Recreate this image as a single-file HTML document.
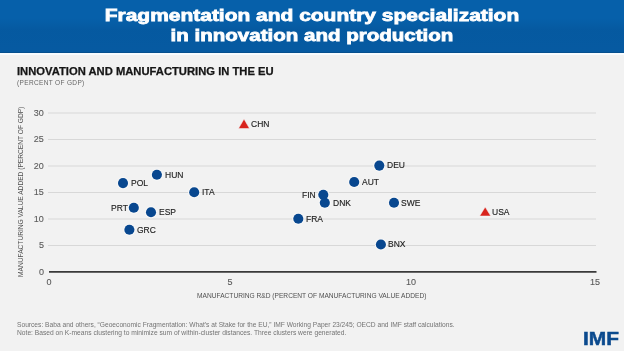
<!DOCTYPE html>
<html><head><meta charset="utf-8">
<style>
*{margin:0;padding:0;box-sizing:border-box}
html,body{width:624px;height:351px;overflow:hidden;background:#f2f2f2;font-family:"Liberation Sans",sans-serif}
#wrap{position:absolute;left:0;top:0;width:624px;height:351px;will-change:transform}
#hdr{position:absolute;left:0;top:0;width:624px;height:53px;background:#0660aa;border-bottom:1px solid #06508f}
#hdrtex{position:absolute;left:0;top:0;width:624px;height:52px;background:linear-gradient(to bottom,rgba(0,20,60,0) 0,rgba(0,20,60,0) 18px,rgba(0,20,60,0.09) 30px,rgba(0,20,60,0.08) 52px)}
#hdrline{position:absolute;left:0;top:53px;width:624px;height:2px;background:#f8fcff}
.t{position:absolute;white-space:nowrap;line-height:1}
.tt{color:#fff;font-weight:bold;font-size:17.2px;left:0;width:624px;text-align:center;-webkit-text-stroke:0.8px #fff}
#h1{font-weight:bold;font-size:10.4px;color:#161616;transform-origin:0 0;transform:scaleX(1.08);-webkit-text-stroke:0.25px #161616}
#sub{font-size:6.5px;color:#666;letter-spacing:0.35px}
.tick{font-size:9.7px;color:#595959;-webkit-text-stroke:0.1px #595959}
.yk{left:0;width:43.9px;text-align:right;transform-origin:100% 0;transform:scaleX(0.93)}
.xk{top:277.3px;width:40px;text-align:center;transform:scaleX(0.93)}
.lab{font-size:9.9px;color:#222;-webkit-text-stroke:0.15px #222;transform-origin:0 0;transform:scaleX(0.86);margin-top:-0.1px;margin-left:0.6px}
.note{font-size:6.5px;color:#737373}
#xt,#yt{color:#505050;font-size:7px}
#imf{font-weight:bold;font-size:19.2px;color:#0b4a8e;transform-origin:0 0;transform:scaleX(1.09);-webkit-text-stroke:0.5px #0b4a8e}
svg{position:absolute;left:0;top:0}
</style></head><body><div id="wrap">
<div id="hdr"></div><div id="hdrtex"></div><div id="hdrline"></div>
<div class="t tt" id="title1" style="top:7.4px;transform:scaleX(1.219)">Fragmentation and country specialization</div>
<div class="t tt" id="title2" style="top:27.3px;transform:scaleX(1.194)">in innovation and production</div>
<div class="t" id="h1" style="left:16.7px;top:66.6px">INNOVATION AND MANUFACTURING IN THE EU</div>
<div class="t" id="sub" style="left:17px;top:79.5px">(PERCENT OF GDP)</div>

<svg width="624" height="351" viewBox="0 0 624 351">
<g stroke="#d8d8d8" stroke-width="1">
<line x1="48" x2="596" y1="113" y2="113"/>
<line x1="48" x2="596" y1="139.5" y2="139.5"/>
<line x1="48" x2="596" y1="166" y2="166"/>
<line x1="48" x2="596" y1="192.5" y2="192.5"/>
<line x1="48" x2="596" y1="219" y2="219"/>
<line x1="48" x2="596" y1="245.5" y2="245.5"/>
</g>
<line x1="49" x2="596.5" y1="271.9" y2="271.9" stroke="#3a3a3a" stroke-width="1.8"/>
<g fill="#f8f8f8">
<circle cx="123" cy="183.1" r="6.1"/>
<circle cx="156.9" cy="174.8" r="6.1"/>
<circle cx="133.8" cy="207.8" r="6.1"/>
<circle cx="151" cy="212.2" r="6.1"/>
<circle cx="129.4" cy="229.8" r="6.1"/>
<circle cx="194.2" cy="192.2" r="6.1"/>
<circle cx="323.3" cy="194.8" r="6.1"/>
<circle cx="324.8" cy="202.8" r="6.1"/>
<circle cx="298.3" cy="218.8" r="6.1"/>
<circle cx="354.2" cy="182" r="6.1"/>
<circle cx="379.3" cy="165.6" r="6.1"/>
<circle cx="394" cy="202.7" r="6.1"/>
<circle cx="380.9" cy="244.5" r="6.1"/>
</g>
<g fill="#08478f">
<circle cx="123" cy="183.1" r="5.05"/>
<circle cx="156.9" cy="174.8" r="5.05"/>
<circle cx="133.8" cy="207.8" r="5.05"/>
<circle cx="151" cy="212.2" r="5.05"/>
<circle cx="129.4" cy="229.8" r="5.05"/>
<circle cx="194.2" cy="192.2" r="5.05"/>
<circle cx="323.3" cy="194.8" r="5.05"/>
<circle cx="324.8" cy="202.8" r="5.05"/>
<circle cx="298.3" cy="218.8" r="5.05"/>
<circle cx="354.2" cy="182" r="5.05"/>
<circle cx="379.3" cy="165.6" r="5.05"/>
<circle cx="394" cy="202.7" r="5.05"/>
<circle cx="380.9" cy="244.5" r="5.05"/>
</g>
<g fill="#d8231c" stroke="#f6f6f6" stroke-width="0.5">
<polygon points="244,119 249.5,128.5 238.5,128.5"/>
<polygon points="485.2,207 490.7,216 479.7,216"/>
</g>
</svg>



<div class="t tick yk" style="top:108.0px">30</div>
<div class="t tick yk" style="top:134.2px">25</div>
<div class="t tick yk" style="top:161.0px">20</div>
<div class="t tick yk" style="top:187.2px">15</div>
<div class="t tick yk" style="top:214.0px">10</div>
<div class="t tick yk" style="top:240.2px">5</div>
<div class="t tick yk" style="top:267.2px">0</div>

<div class="t tick xk" style="left:29.3px">0</div>
<div class="t tick xk" style="left:210.2px">5</div>
<div class="t tick xk" style="left:390.8px">10</div>
<div class="t tick xk" style="left:575.3px">15</div>

<div class="t lab" style="left:250px;top:119px">CHN</div>
<div class="t lab" style="left:130px;top:178px">POL</div>
<div class="t lab" style="left:164px;top:170px">HUN</div>
<div class="t lab" style="left:110.2px;top:203px">PRT</div>
<div class="t lab" style="left:158px;top:207px">ESP</div>
<div class="t lab" style="left:136px;top:225px">GRC</div>
<div class="t lab" style="left:201px;top:187px">ITA</div>
<div class="t lab" style="left:301.5px;top:190px">FIN</div>
<div class="t lab" style="left:332px;top:198px">DNK</div>
<div class="t lab" style="left:305px;top:214px">FRA</div>
<div class="t lab" style="left:361px;top:177px">AUT</div>
<div class="t lab" style="left:386px;top:160px">DEU</div>
<div class="t lab" style="left:400px;top:198px">SWE</div>
<div class="t lab" style="left:387px;top:239px">BNX</div>
<div class="t lab" style="left:491.6px;top:207px">USA</div>

<div class="t note" id="xt" style="left:197px;top:292px;transform-origin:0 0;transform:scaleX(0.945)">MANUFACTURING R&amp;D (PERCENT OF MANUFACTURING VALUE ADDED)</div>
<div class="t note" id="yt" style="left:16.5px;top:277px;transform-origin:0 0;transform:rotate(-90deg) scaleX(0.945)">MANUFACTURING VALUE ADDED (PERCENT OF GDP)</div>

<div class="t note" id="n1" style="left:17px;top:322px;transform-origin:0 0;transform:scaleX(1.023)">Sources: Baba and others, “Geoeconomic Fragmentation: What’s at Stake for the EU,” IMF Working Paper 23/245; OECD and IMF staff calculations.</div>
<div class="t note" id="n2" style="left:17px;top:330px;transform-origin:0 0;transform:scaleX(1.027)">Note: Based on K-means clustering to minimize sum of within-cluster distances. Three clusters were generated.</div>

<div class="t" id="imf" style="left:583.3px;top:329px">IMF</div>
</div></body></html>
